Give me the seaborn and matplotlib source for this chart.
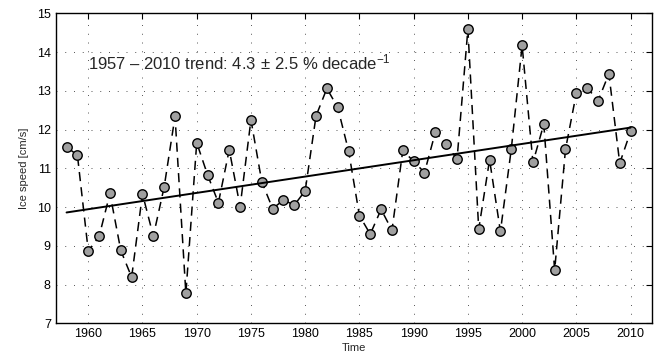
import numpy as np
import pandas as pd
import matplotlib
matplotlib.use("Agg")
import matplotlib.pyplot as plt
import seaborn as sns

years = list(range(1958, 2011))
ice_speed = [
    11.55, 11.34, 8.87, 9.24, 10.35, 8.88, 8.19, 10.34, 9.25, 10.52,
    12.34, 7.77, 11.66, 10.83, 10.11, 11.48, 10.01, 12.25, 10.65, 9.96,
    10.18, 10.05, 10.42, 12.35, 13.06, 12.57, 11.45, 9.78, 9.30, 9.94,
    9.40, 11.46, 11.18, 10.89, 11.93, 11.63, 11.23, 14.59, 9.43, 11.22,
    9.37, 11.49, 14.17, 11.15, 12.14, 8.37, 11.49, 12.94, 13.08, 12.74,
    13.44, 11.13, 11.95,
]
trend_years = [1958, 2010]
trend_values = [9.86, 12.05]
xticks = list(range(1960, 2011, 5))
yticks = list(range(7, 16))

df = pd.DataFrame({"Time": years, "speed": ice_speed})
trend = pd.DataFrame({"Time": trend_years, "speed": trend_values})

sns.set_style("white")
plt.rcParams["font.family"] = ["Liberation Sans", "DejaVu Sans"]
plt.rcParams["mathtext.fontset"] = "custom"
plt.rcParams["mathtext.rm"] = "Liberation Sans"
plt.rcParams["mathtext.it"] = "Liberation Sans:italic"

fig = plt.figure(figsize=(6.57, 3.64), dpi=100)
ax = fig.add_axes([0.0848, 0.1118, 0.9080, 0.8517])

sns.lineplot(data=df, x="Time", y="speed", ax=ax, color="black",
             linestyle=(0, (6, 4)), linewidth=1.1, marker="o",
             markersize=6.8, markerfacecolor="#a0a0a0",
             markeredgecolor="black", markeredgewidth=1.0)
sns.lineplot(data=trend, x="Time", y="speed", ax=ax, color="black",
             linewidth=1.4)

ax.set_xlim(1957, 2012)
ax.set_ylim(7, 15)
ax.set_xticks(xticks)
ax.set_yticks(yticks)
ax.grid(True, color="#555555", linestyle=(0, (1, 8)), linewidth=0.7)
ax.tick_params(direction="in", length=4, width=0.8, labelsize=9,
               top=True, right=True, colors="black")
for s in ax.spines.values():
    s.set_color("black")
    s.set_linewidth(1.0)
ax.set_xlabel("Time", fontsize=8, labelpad=2)
ax.set_ylabel("Ice speed [cm/s]", fontsize=8, labelpad=6)

ax.text(1960, 13.72, r"1957 – 2010 trend: 4.3$\,\pm\,$2.5 % decade$^{-1}$",
        fontsize=12, va="center", ha="left")

fig.savefig("out.png", dpi=100)
